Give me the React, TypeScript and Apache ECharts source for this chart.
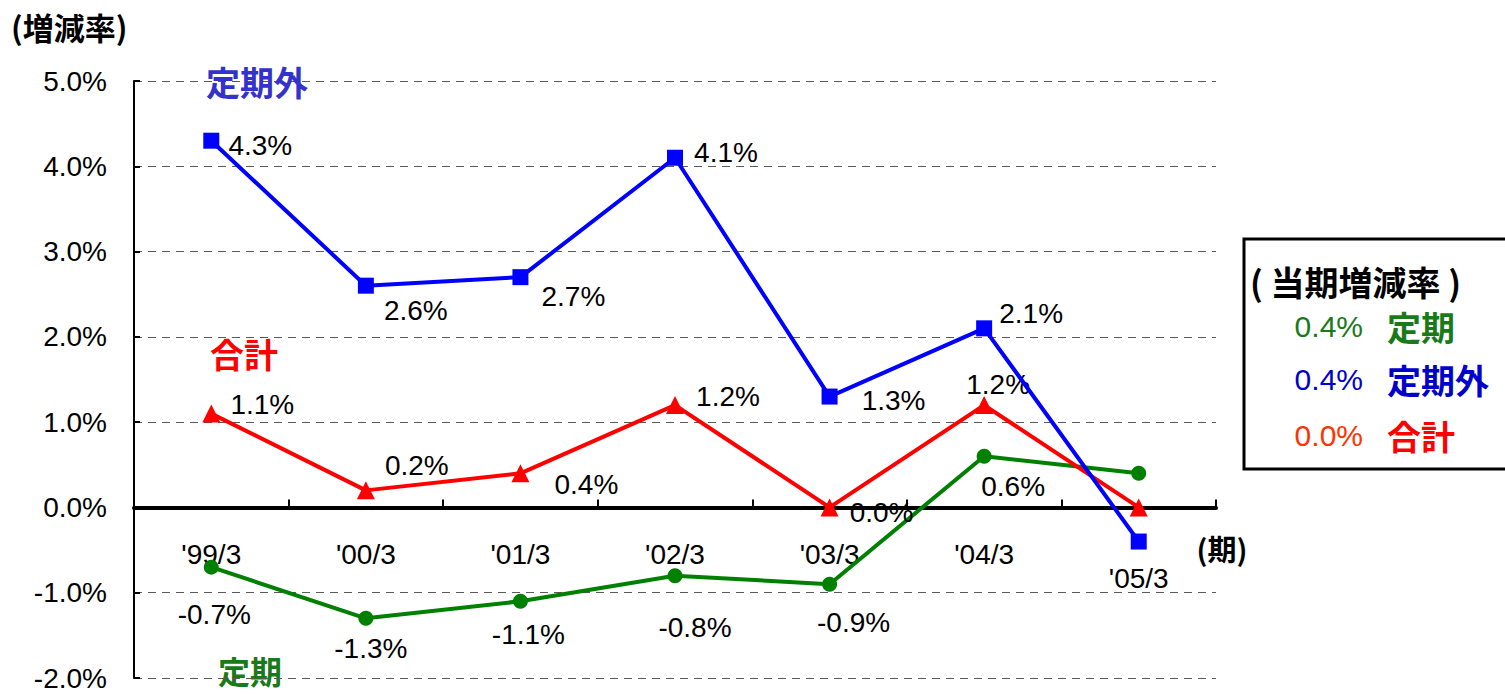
import React, { useEffect, useRef } from 'react';
import * as echarts from 'echarts';

const categories = ["'99/3", "'00/3", "'01/3", "'02/3", "'03/3", "'04/3", "'05/3"];
const teiki = [-0.7, -1.3, -1.1, -0.8, -0.9, 0.6, 0.4];
const teikiGai = [4.3, 2.6, 2.7, 4.1, 1.3, 2.1, -0.4];
const goukei = [1.1, 0.2, 0.4, 1.2, 0.0, 1.2, 0.0];
const seriesNames = ['定期', '定期外', '合計'];
const latestRates = [0.4, 0.4, 0.0];
const yTicks = { min: -2, max: 5, interval: 1 };

// label offsets (style only)
const blueOffsets: (number[] | null)[] = [[49, 5], [50, 25], [53, 19], [51, -5], [64, 4], [47, -15], null];
const redOffsets: (number[] | null)[] = [[51, -9], [51, -25], [66, 11], [53, -9], [52, 5], [14, -21], null];
const greenOffsets: (number[] | null)[] = [[3, 47], [5, 30], [8, 33], [20, 52], [24, 38], [29, 30], null];

const NUM_FONT = "'Liberation Sans', Arial, sans-serif";
const CJK_FONT = "'Noto Sans CJK JP', sans-serif";

function buildData(values: number[], offsets: (number[] | null)[]) {
  return values.map((v, i) =>
    offsets[i]
      ? { value: v, label: { show: true, offset: offsets[i] } }
      : { value: v, label: { show: false } }
  );
}

const labelBase = {
  show: true,
  position: 'inside',
  align: 'center',
  verticalAlign: 'middle',
  color: '#000',
  fontSize: 28,
  fontFamily: NUM_FONT,
  textBorderWidth: 0,
  formatter: (p: any) => Number(p.value).toFixed(1) + '%',
};

export default function App() {
  const ref = useRef<HTMLDivElement>(null);
  useEffect(() => {
    if (!ref.current) return;
    const chart = echarts.init(ref.current, undefined, { renderer: 'svg' });
    const legendColorsNum = ['#1a7a1a', '#0000CC', '#FF3300'];
    const legendColorsName = ['#1a7a1a', '#0000CC', '#FF0000'];
    const legendRowsY = [326, 379, 435];
    const legendTexts: any[] = [];
    seriesNames.forEach((n, i) => {
      legendTexts.push({
        type: 'text',
        x: 1363,
        y: legendRowsY[i],
        style: {
          text: latestRates[i].toFixed(1) + '%',
          align: 'right',
          verticalAlign: 'middle',
          fill: legendColorsNum[i],
          fontSize: 30,
          fontFamily: NUM_FONT,
        },
      });
      legendTexts.push({
        type: 'text',
        x: 1387,
        y: legendRowsY[i],
        style: {
          text: n,
          align: 'left',
          verticalAlign: 'middle',
          fill: legendColorsName[i],
          fontSize: 34,
          fontWeight: 'bold',
          fontFamily: CJK_FONT,
        },
      });
    });

    chart.setOption({
      animation: false,
      backgroundColor: '#fff',
      grid: { left: 134, right: 289, top: 81, bottom: 16, containLabel: false, outerBoundsMode: 'none' },
      xAxis: {
        type: 'category',
        data: categories,
        boundaryGap: true,
        axisLine: { show: true, onZero: true, lineStyle: { color: '#000', width: 4 } },
        axisTick: { show: true, inside: true, length: 8, interval: 0, lineStyle: { color: '#000', width: 2 } },
        axisLabel: {
          interval: 0,
          margin: -138,
          formatter: (v: string, i: number) => (i === categories.length - 1 ? `{low|${v}}` : `{n|${v}}`),
          rich: {
            n: { fontSize: 28, fontFamily: NUM_FONT, color: '#000' },
            low: { fontSize: 28, fontFamily: NUM_FONT, color: '#000', padding: [24, 0, 0, 0] },
          },
        },
        splitLine: { show: false },
      },
      yAxis: {
        type: 'value',
        min: yTicks.min,
        max: yTicks.max,
        interval: yTicks.interval,
        axisLine: { show: true, onZero: false, lineStyle: { color: '#000', width: 2 } },
        axisTick: { show: true, inside: true, length: 6, lineStyle: { color: '#000', width: 2 } },
        axisLabel: {
          margin: 27,
          fontSize: 28,
          fontFamily: NUM_FONT,
          color: '#000',
          formatter: (v: number) => v.toFixed(1) + '%',
        },
        splitLine: { show: true, lineStyle: { color: '#5a5a5a', width: 1, type: [8, 6] } },
      },
      series: [
        {
          name: '定期',
          type: 'line',
          data: buildData(teiki, greenOffsets),
          symbol: 'circle',
          symbolSize: 15,
          lineStyle: { color: '#008000', width: 4 },
          itemStyle: { color: '#008000' },
          label: labelBase,
          z: 2,
        },
        {
          name: '合計',
          type: 'line',
          data: buildData(goukei, redOffsets),
          symbol: 'triangle',
          symbolSize: 18,
          lineStyle: { color: '#FF0000', width: 4 },
          itemStyle: { color: '#FF0000' },
          label: labelBase,
          z: 3,
        },
        {
          name: '定期外',
          type: 'line',
          data: buildData(teikiGai, blueOffsets),
          symbol: 'rect',
          symbolSize: 16,
          lineStyle: { color: '#0000FF', width: 4 },
          itemStyle: { color: '#0000FF' },
          label: labelBase,
          z: 4,
        },
      ],
      graphic: [
        {
          type: 'text',
          x: 11,
          y: 26,
          style: { text: '(増減率)', align: 'left', verticalAlign: 'middle', fill: '#000', fontSize: 31, fontWeight: 'bold', fontFamily: CJK_FONT },
        },
        {
          type: 'text',
          x: 257,
          y: 81,
          z: 10,
          style: { text: '定期外', align: 'center', verticalAlign: 'middle', fill: '#3333CC', fontSize: 34, fontWeight: 'bold', fontFamily: CJK_FONT },
        },
        {
          type: 'text',
          x: 244,
          y: 353,
          style: { text: '合計', align: 'center', verticalAlign: 'middle', fill: '#FF0000', fontSize: 34, fontWeight: 'bold', fontFamily: CJK_FONT },
        },
        {
          type: 'text',
          x: 250,
          y: 670,
          style: { text: '定期', align: 'center', verticalAlign: 'middle', fill: '#1a7a1a', fontSize: 32, fontWeight: 'bold', fontFamily: CJK_FONT },
        },
        {
          type: 'text',
          x: 1222,
          y: 548,
          style: { text: '(期)', align: 'center', verticalAlign: 'middle', fill: '#000', fontSize: 29, fontWeight: 'bold', fontFamily: CJK_FONT },
        },
        {
          type: 'rect',
          shape: { x: 1244, y: 239, width: 300, height: 230 },
          style: { fill: '#fff', stroke: '#000', lineWidth: 3 },
        },
        {
          type: 'text',
          x: 1250,
          y: 281,
          style: { text: '( 当期増減率 )', align: 'left', verticalAlign: 'middle', fill: '#000', fontSize: 34, fontWeight: 'bold', fontFamily: CJK_FONT },
        },
        ...legendTexts,
      ],
    });
    return () => chart.dispose();
  }, []);
  return <div ref={ref} style={{ position: 'fixed', left: 0, top: 0, width: 1505, height: 694 }} />;
}
